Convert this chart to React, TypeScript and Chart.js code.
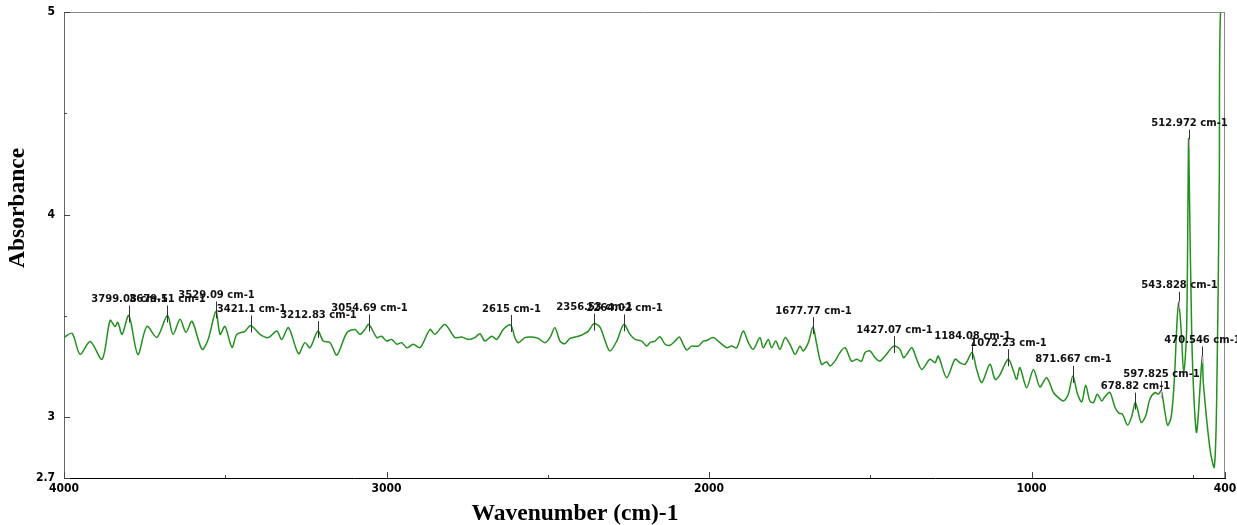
import React, { useEffect, useRef } from 'react';
import { Chart, registerables } from 'chart.js';

Chart.register(...registerables);

// Spectrum: wavenumber (cm-1) and absorbance
const wavenumbers = [
  4000, 3975, 3950, 3919, 3882, 3857, 3842, 3833, 3820, 3799.08,
  3771, 3743, 3712, 3679.51, 3662, 3640, 3622, 3603, 3572, 3553,
  3529.09, 3516, 3501, 3479, 3464, 3439, 3421.1, 3392, 3366, 3340,
  3325, 3304, 3273, 3253, 3237, 3212.83, 3196, 3175, 3154, 3123,
  3098, 3082, 3067, 3054.69, 3030, 3015, 3000, 2984, 2968, 2953,
  2937, 2917, 2896, 2865, 2850, 2819, 2788, 2767, 2746, 2726,
  2710, 2695, 2674, 2658, 2638, 2615, 2602, 2591, 2571, 2550,
  2529, 2509, 2493, 2478, 2462, 2447, 2431, 2405, 2390, 2374,
  2356.53, 2338, 2322, 2307, 2286, 2264.02, 2245, 2229, 2209, 2193,
  2183, 2167, 2152, 2136, 2121, 2105, 2092, 2080, 2069, 2054,
  2033, 2018, 2007, 1987, 1966, 1945, 1930, 1914, 1894, 1878,
  1863, 1842, 1832, 1816, 1806, 1793, 1780, 1764, 1749, 1733,
  1718, 1708, 1692, 1677.77, 1666, 1651, 1635, 1625, 1609, 1594,
  1578, 1558, 1542, 1527, 1516, 1501, 1485, 1470, 1454, 1427.07,
  1408, 1397, 1387, 1371, 1356, 1340, 1315, 1299, 1289, 1263,
  1237, 1222, 1206, 1184.08, 1170, 1154, 1129, 1113, 1100, 1072.23,
  1056, 1046, 1036, 1015, 994, 974, 953, 932, 917, 901,
  886, 871.667, 857, 844, 832, 819, 808, 796, 782, 772,
  757, 741, 729, 718, 702, 689, 678.82, 671, 660, 646,
  633, 617, 607, 597.825, 586, 578, 567, 557, 550, 543.828,
  536, 528, 519, 512.972, 510.7, 503.3, 496.1, 487.7, 470.546, 467.3,
  446.5, 433.2, 425.8, 417.7, 414, 400,
];

const absorbance = [
  3.394, 3.414, 3.310, 3.374, 3.286, 3.478, 3.448, 3.468, 3.409, 3.502,
  3.310, 3.448, 3.394, 3.502, 3.409, 3.483, 3.419, 3.473, 3.335, 3.384,
  3.522, 3.409, 3.448, 3.345, 3.409, 3.424, 3.453, 3.409, 3.393, 3.425,
  3.384, 3.442, 3.314, 3.368, 3.343, 3.425, 3.376, 3.368, 3.307, 3.417,
  3.433, 3.409, 3.433, 3.458, 3.393, 3.400, 3.376, 3.384, 3.360, 3.368,
  3.343, 3.360, 3.343, 3.433, 3.409, 3.458, 3.393, 3.396, 3.384, 3.393,
  3.412, 3.376, 3.400, 3.384, 3.433, 3.455, 3.393, 3.368, 3.393, 3.396,
  3.389, 3.368, 3.393, 3.442, 3.376, 3.363, 3.389, 3.400, 3.409, 3.425,
  3.462, 3.445, 3.376, 3.327, 3.376, 3.458, 3.409, 3.384, 3.376, 3.351,
  3.368, 3.376, 3.397, 3.360, 3.355, 3.376, 3.396, 3.360, 3.332, 3.351,
  3.351, 3.376, 3.379, 3.393, 3.368, 3.343, 3.351, 3.343, 3.425, 3.368,
  3.335, 3.393, 3.343, 3.384, 3.343, 3.376, 3.335, 3.393, 3.360, 3.310,
  3.351, 3.327, 3.368, 3.445, 3.360, 3.261, 3.274, 3.253, 3.278, 3.319,
  3.343, 3.277, 3.286, 3.277, 3.319, 3.327, 3.294, 3.277, 3.302, 3.351,
  3.335, 3.294, 3.310, 3.343, 3.286, 3.236, 3.286, 3.269, 3.302, 3.195,
  3.286, 3.269, 3.261, 3.319, 3.236, 3.171, 3.261, 3.187, 3.204, 3.286,
  3.228, 3.187, 3.245, 3.146, 3.236, 3.150, 3.195, 3.122, 3.097, 3.080,
  3.113, 3.204, 3.113, 3.076, 3.158, 3.080, 3.072, 3.113, 3.080, 3.102,
  3.122, 3.048, 3.020, 3.015, 2.961, 3.006, 3.072, 3.039, 2.974, 3.006,
  3.089, 3.122, 3.113, 3.130, 3.023, 2.961, 2.999, 3.187, 3.433, 3.570,
  3.433, 3.220, 3.433, 4.370, 4.158, 3.419, 3.089, 2.926, 3.300, 3.172,
  2.842, 2.754, 3.089, 4.170, 5.0, 5.0,
];

const peakWavenumbers = [
  3799.08, 3679.51, 3529.09, 3421.1, 3212.83, 3054.69, 2615, 2356.53, 2264.02,
  1677.77, 1427.07, 1184.08, 1072.23, 871.667, 678.82, 597.825, 543.828, 512.972, 470.546,
];
const peakLabels = [
  '3799.08 cm-1', '3679.51 cm-1', '3529.09 cm-1', '3421.1 cm-1', '3212.83 cm-1',
  '3054.69 cm-1', '2615 cm-1', '2356.53 cm-1', '2264.02 cm-1', '1677.77 cm-1',
  '1427.07 cm-1', '1184.08 cm-1', '1072.23 cm-1', '871.667 cm-1', '678.82 cm-1',
  '597.825 cm-1', '543.828 cm-1', '512.972 cm-1', '470.546 cm-1',
];

const xTickValues = [4000, 3000, 2000, 1000, 400];
const xMinorTicks = [3500, 2500, 1500, 500];
const yTickValues = [2.7, 3, 4, 5];
const yMinorTicks = [3.5, 4.5];

const xTitle = 'Wavenumber (cm)-1';
const yTitle = 'Absorbance';

const pinkMarked = new Set([543.828, 512.972, 470.546, 597.825]);

function valueAt(w: number): number {
  let best = 0;
  let bd = Infinity;
  wavenumbers.forEach((v, i) => {
    const d = Math.abs(v - w);
    if (d < bd) { bd = d; best = i; }
  });
  return absorbance[best];
}

const tickFont = { family: "'Liberation Sans Narrow','DejaVu Sans Condensed','Liberation Sans',sans-serif", size: 12, weight: 'bold' as const };

const decorPlugin = {
  id: 'decor',
  afterDraw(chart: any) {
    const { ctx, chartArea } = chart;
    const xs = chart.scales.x;
    const ys = chart.scales.y;
    const { left, right, top, bottom } = chartArea;
    ctx.save();
    // top and right frame
    ctx.strokeStyle = '#8a8a8a';
    ctx.lineWidth = 1;
    ctx.beginPath();
    ctx.moveTo(left, top + 0.5);
    ctx.lineTo(right - 0.5, top + 0.5);
    ctx.lineTo(right - 0.5, bottom);
    ctx.stroke();

    // inside ticks
    ctx.strokeStyle = '#444';
    ctx.beginPath();
    xTickValues.forEach((v) => {
      const px = Math.round(xs.getPixelForValue(v)) + 0.5;
      ctx.moveTo(px, bottom);
      ctx.lineTo(px, bottom - 6);
    });
    xMinorTicks.forEach((v) => {
      const px = Math.round(xs.getPixelForValue(v)) + 0.5;
      ctx.moveTo(px, bottom);
      ctx.lineTo(px, bottom - 3);
    });
    yTickValues.forEach((v) => {
      const py = Math.round(ys.getPixelForValue(v)) + 0.5;
      ctx.moveTo(left, py);
      ctx.lineTo(left + 6, py);
    });
    yMinorTicks.forEach((v) => {
      const py = Math.round(ys.getPixelForValue(v)) + 0.5;
      ctx.moveTo(left, py);
      ctx.lineTo(left + 3, py);
    });
    ctx.stroke();

    // peak labels
    ctx.font = "bold 10px 'DejaVu Sans', sans-serif";
    ctx.textAlign = 'center';
    ctx.textBaseline = 'middle';
    peakWavenumbers.forEach((w, i) => {
      const px = Math.round(xs.getPixelForValue(w)) + 0.5;
      const py = ys.getPixelForValue(valueAt(w));
      ctx.strokeStyle = '#333';
      ctx.lineWidth = 1;
      ctx.beginPath();
      ctx.moveTo(px, py - 10);
      ctx.lineTo(px, pinkMarked.has(w) ? py : py + 7);
      ctx.stroke();
      if (pinkMarked.has(w)) {
        ctx.strokeStyle = '#ff80ff';
        ctx.beginPath();
        ctx.moveTo(px, py);
        ctx.lineTo(px, py + 7);
        ctx.stroke();
      }
      ctx.fillStyle = '#111';
      ctx.fillText(peakLabels[i], px, py - 16);
    });

    // axis titles
    ctx.fillStyle = '#000';
    ctx.font = "bold 23.5px 'Liberation Serif', serif";
    ctx.textAlign = 'center';
    ctx.textBaseline = 'middle';
    ctx.fillText(xTitle, 575, 514);
    ctx.save();
    ctx.translate(18, 208);
    ctx.rotate(-Math.PI / 2);
    ctx.fillText(yTitle, 0, 0);
    ctx.restore();
    ctx.restore();
  },
};

export default function App() {
  const ref = useRef<HTMLCanvasElement>(null);
  useEffect(() => {
    if (!ref.current) return;
    const chart = new Chart(ref.current, {
      type: 'line',
      data: {
        datasets: [
          {
            data: wavenumbers.map((w, i) => ({ x: w, y: absorbance[i] })),
            borderColor: '#23901f',
            borderWidth: 1.5,
            pointRadius: 0,
            tension: 0.3,
            fill: false,
            clip: 0,
          } as any,
        ],
      },
      options: {
        animation: false,
        responsive: false,
        devicePixelRatio: 1,
        layout: { padding: { top: 12, right: 12, left: 0, bottom: 0 } },
        plugins: { legend: { display: false }, tooltip: { enabled: false } },
        scales: {
          x: {
            type: 'linear',
            reverse: true,
            min: 400,
            max: 4000,
            afterBuildTicks: (s: any) => { s.ticks = xTickValues.map((v) => ({ value: v })); },
            afterFit: (s: any) => { s.height = 47; s.paddingLeft = 0; s.paddingRight = 0; },
            ticks: { autoSkip: false, maxRotation: 0, padding: 4, color: '#000', font: tickFont, callback: (v: any) => String(v) },
            grid: { display: false, drawTicks: false },
            border: { display: true, color: '#000', width: 1 },
          },
          y: {
            type: 'linear',
            min: 2.7,
            max: 5,
            afterBuildTicks: (s: any) => { s.ticks = yTickValues.map((v) => ({ value: v })); },
            afterFit: (s: any) => { s.width = 64; s.paddingTop = 0; s.paddingBottom = 0; },
            ticks: { autoSkip: false, padding: 9, color: '#000', font: tickFont, callback: (v: any) => String(v) },
            grid: { display: false, drawTicks: false },
            border: { display: true, color: '#666', width: 1 },
          },
        },
      },
      plugins: [decorPlugin],
    });
    return () => chart.destroy();
  }, []);
  return (
    <div style={{ position: 'fixed', left: 0, top: 0, width: 1237, height: 525, background: '#fff' }}>
      <canvas ref={ref} width={1237} height={525} style={{ width: 1237, height: 525, display: 'block' }} />
    </div>
  );
}
